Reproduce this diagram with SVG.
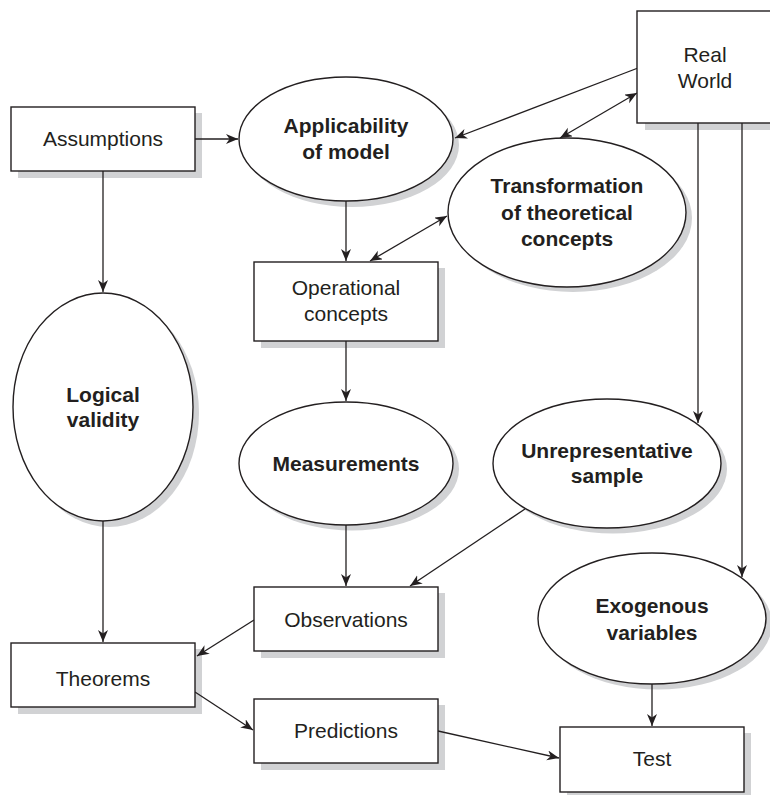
<svg xmlns="http://www.w3.org/2000/svg" width="770" height="795" viewBox="0 0 770 795">
  <style>
    .shadow { fill: #d1d2d4; stroke: none; }
    .shape { fill: #ffffff; stroke: #231f20; stroke-width: 1.4; }
    .label { font-family: "Liberation Sans", Arial, Helvetica, sans-serif; font-size: 21px; fill: #231f20; text-anchor: middle; }
    .bold { font-weight: bold; }
    .edge { fill: none; stroke: #231f20; stroke-width: 1.3; }
    .arrow { marker-end: url(#head); }
    .both { marker-start: url(#head); marker-end: url(#head); }
  </style>
  <defs>
    <marker id="head" markerUnits="userSpaceOnUse" markerWidth="14" markerHeight="12" refX="12" refY="5" orient="auto-start-reverse">
      <path d="M0,0 L12,5 L0,10 L3.5,5 z" fill="#231f20"/>
    </marker>
  </defs>
  <rect width="770" height="795" fill="#ffffff"/>

  <!-- drop shadows sit underneath the connector lines -->
  <g id="shadows">
    <rect class="shadow" x="18" y="113" width="184" height="65"/>
    <ellipse class="shadow" cx="352" cy="145" rx="107" ry="62"/>
    <rect class="shadow" x="645" y="18" width="140" height="112"/>
    <ellipse class="shadow" cx="573" cy="218" rx="119" ry="74"/>
    <rect class="shadow" x="261" y="268" width="184" height="80"/>
    <ellipse class="shadow" cx="109" cy="413" rx="90" ry="114"/>
    <ellipse class="shadow" cx="352" cy="469" rx="107" ry="61.5"/>
    <ellipse class="shadow" cx="613" cy="469" rx="114" ry="64.5"/>
    <rect class="shadow" x="261" y="593" width="184" height="65"/>
    <ellipse class="shadow" cx="658" cy="624" rx="114" ry="65.5"/>
    <rect class="shadow" x="18" y="649" width="184" height="65"/>
    <rect class="shadow" x="261" y="705" width="184" height="65"/>
    <rect class="shadow" x="567" y="733" width="184" height="65"/>
  </g>

  <g id="connectors">
    <path class="edge arrow" d="M195,139 L238,139"/>
    <path class="edge arrow" d="M103,171 L103,292"/>
    <path class="edge arrow" d="M638,68 L455,138"/>
    <path class="edge both" d="M637,93 L560,138"/>
    <path class="edge arrow" d="M346,201 L346,261"/>
    <path class="edge both" d="M447,216 L370,261"/>
    <path class="edge arrow" d="M698,123 L698,423"/>
    <path class="edge arrow" d="M742,123 L742,577"/>
    <path class="edge arrow" d="M346,341 L346,401"/>
    <path class="edge arrow" d="M346,525 L346,586"/>
    <path class="edge arrow" d="M525,509 L410,586"/>
    <path class="edge arrow" d="M103,521 L103,642"/>
    <path class="edge arrow" d="M254,620 L197,656"/>
    <path class="edge arrow" d="M195,692 L253,730"/>
    <path class="edge arrow" d="M438,731 L559,758"/>
    <path class="edge arrow" d="M652,684 L652,726"/>
  </g>

  <g id="assumptions">
    <rect class="shape" x="11" y="107" width="184" height="64"/>
    <text class="label" x="103" y="146">Assumptions</text>
  </g>

  <g id="applicability">
    <ellipse class="shape" cx="346" cy="139" rx="107" ry="62"/>
    <text class="label bold" x="346" y="133">Applicability</text>
    <text class="label bold" x="346" y="159">of model</text>
  </g>

  <g id="real-world">
    <rect class="shape" x="637" y="11" width="140" height="112"/>
    <text class="label" x="705" y="62">Real</text>
    <text class="label" x="705" y="88">World</text>
  </g>

  <g id="transformation">
    <ellipse class="shape" cx="567" cy="212.5" rx="119" ry="74.5"/>
    <text class="label bold" x="567" y="193">Transformation</text>
    <text class="label bold" x="567" y="220">of theoretical</text>
    <text class="label bold" x="567" y="246">concepts</text>
  </g>

  <g id="operational-concepts">
    <rect class="shape" x="254" y="262" width="184" height="79"/>
    <text class="label" x="346" y="295">Operational</text>
    <text class="label" x="346" y="321">concepts</text>
  </g>

  <g id="logical-validity">
    <ellipse class="shape" cx="103" cy="407" rx="90" ry="114"/>
    <text class="label bold" x="103" y="402">Logical</text>
    <text class="label bold" x="103" y="427">validity</text>
  </g>

  <g id="measurements">
    <ellipse class="shape" cx="346" cy="463.5" rx="107" ry="61.5"/>
    <text class="label bold" x="346" y="471">Measurements</text>
  </g>

  <g id="unrepresentative-sample">
    <ellipse class="shape" cx="607" cy="463.5" rx="114" ry="64.5"/>
    <text class="label bold" x="607" y="458">Unrepresentative</text>
    <text class="label bold" x="607" y="483">sample</text>
  </g>

  <g id="observations">
    <rect class="shape" x="254" y="587" width="184" height="64"/>
    <text class="label" x="346" y="627">Observations</text>
  </g>

  <g id="exogenous-variables">
    <ellipse class="shape" cx="652" cy="618.5" rx="114" ry="65.5"/>
    <text class="label bold" x="652" y="613">Exogenous</text>
    <text class="label bold" x="652" y="640">variables</text>
  </g>

  <g id="theorems">
    <rect class="shape" x="11" y="643" width="184" height="64"/>
    <text class="label" x="103" y="686">Theorems</text>
  </g>

  <g id="predictions">
    <rect class="shape" x="254" y="699" width="184" height="64"/>
    <text class="label" x="346" y="738">Predictions</text>
  </g>

  <g id="test">
    <rect class="shape" x="560" y="727" width="184" height="65"/>
    <text class="label" x="652" y="766">Test</text>
  </g>
</svg>
